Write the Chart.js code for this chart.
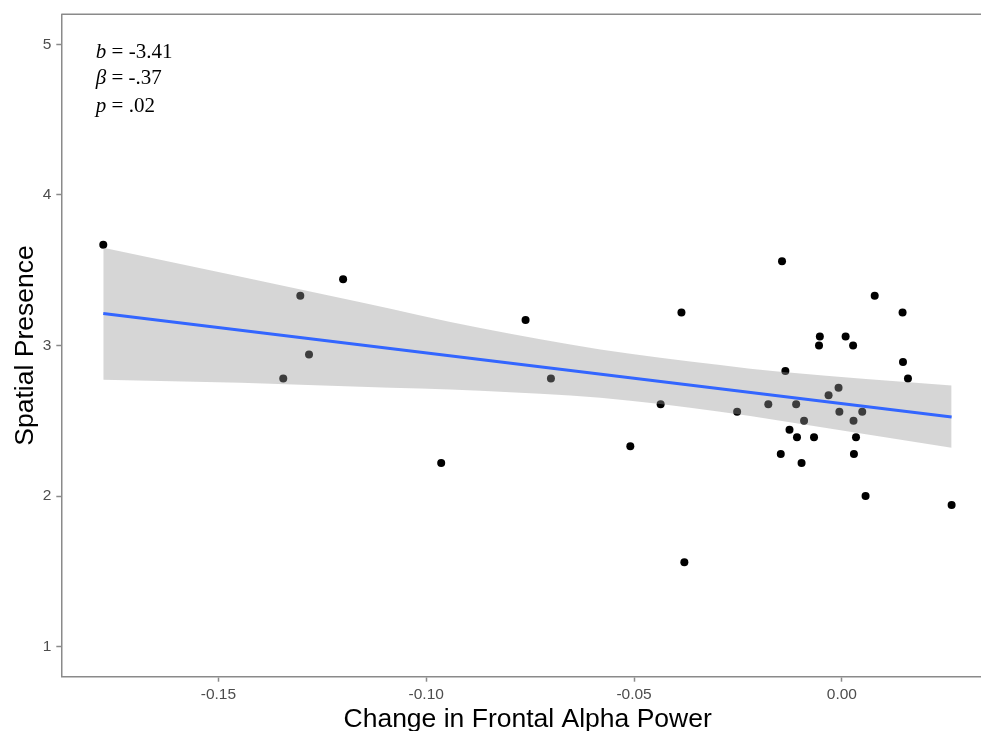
<!DOCTYPE html>
<html>
<head>
<meta charset="utf-8">
<script src="https://cdn.jsdelivr.net/npm/chart.js@4.4.0/dist/chart.umd.min.js"></script>
<style>
  html, body { margin:0; padding:0; background:#fff; overflow:hidden; }
  /* panel runs a bit past the right edge of the window, like the cropped original */
  #wrap { width:1000px; height:750px; position:relative; }
</style>
</head>
<body>
<div id="wrap"><canvas id="mycanvas"></canvas></div>
<script>
// scatter points
let alphaChange = [-0.1777, -0.1344, -0.1303, -0.1282, -0.1200, -0.0964, -0.0761, -0.0700, -0.0509, -0.0436,
                   -0.0386, -0.0379, -0.0252, -0.0177, -0.0147, -0.0144, -0.0136, -0.0126, -0.0110, -0.0108,
                   -0.0097, -0.0091, -0.0067, -0.0055, -0.0053, -0.0032, -0.0008, -0.0006, 0.0009, 0.0027,
                   0.0028, 0.0029, 0.0034, 0.0049, 0.0057, 0.0079, 0.0146, 0.0147, 0.0159, 0.0264]
let presence = [3.67, 2.78, 3.33, 2.94, 3.44, 2.22, 3.17, 2.78, 2.33, 2.61,
                3.22, 1.56, 2.56, 2.61, 2.28, 3.56, 2.83, 2.44, 2.61, 2.39,
                2.22, 2.50, 2.39, 3.00, 3.06, 2.67, 2.72, 2.56, 3.06, 3.00,
                2.50, 2.28, 2.39, 2.56, 2.00, 3.33, 3.22, 2.89, 2.78, 1.94]

// lm line and its confidence band
let fitX = [-0.1777, 0.0264]
let fitY = [3.213, 2.525]
let bandX     = [-0.1777, -0.1446, -0.1158, -0.0870, -0.0581, -0.0293, -0.0148, 0.0264]
let bandUpper = [3.650, 3.457, 3.288, 3.116, 2.974, 2.871, 2.825, 2.734]
let bandLower = [2.772, 2.752, 2.726, 2.700, 2.653, 2.560, 2.500, 2.320]

let xTicks = [-0.15, -0.10, -0.05, 0.00]
let xTickLabels = ["-0.15", "-0.10", "-0.05", "0.00"]
let yTicks = [1, 2, 3, 4, 5]

// stats text, italic symbol + rest
let statSymbols = ["b", "β", "p"]
let statValues = [" = -3.41", " = -.37", " = .02"]
let statX = -0.1795
let statY = [4.909, 4.734, 4.552]

let axisGray = '#8a8a8a'
let tickFont = { family: 'Liberation Sans', size: 15.5 }
let titleFont = { family: 'Liberation Sans', size: 26.5 }

let pts = alphaChange.map((x, i) => ({ x: x, y: presence[i] }))
let fit = fitX.map((x, i) => ({ x: x, y: fitY[i] }))
let upper = bandX.map((x, i) => ({ x: x, y: bandUpper[i] }))
let lower = bandX.map((x, i) => ({ x: x, y: bandLower[i] }))

// top border of the panel
let frameTop = {
  id: 'frameTop',
  afterDraw(c) {
    let a = c.chartArea, ctx = c.ctx
    ctx.save()
    ctx.strokeStyle = axisGray
    ctx.lineWidth = 1.5
    ctx.beginPath()
    ctx.moveTo(a.left, a.top)
    ctx.lineTo(a.right, a.top)
    ctx.stroke()
    ctx.restore()
  }
}

// b / beta / p text in the corner
let statText = {
  id: 'statText',
  afterDraw(c) {
    let ctx = c.ctx
    let px = c.scales.x.getPixelForValue(statX)
    ctx.save()
    ctx.fillStyle = '#000'
    ctx.textBaseline = 'alphabetic'
    ctx.textAlign = 'left'
    statSymbols.forEach((s, i) => {
      let py = c.scales.y.getPixelForValue(statY[i])
      ctx.font = 'italic 21px "Liberation Serif"'
      ctx.fillText(s, px, py)
      let w = ctx.measureText(s).width
      ctx.font = '21px "Liberation Serif"'
      ctx.fillText(statValues[i], px + w, py)
    })
    ctx.restore()
  }
}

let element = document.getElementById("mycanvas")
let mychart = new Chart(element, {
  type: 'scatter',
  data: {
    datasets: [
      { type: 'line', data: fit, borderColor: '#3366FF', borderWidth: 3, pointRadius: 0, fill: false, order: 0 },
      { type: 'line', data: upper, borderColor: 'rgba(0,0,0,0)', borderWidth: 0, pointRadius: 0,
        fill: '+1', backgroundColor: 'rgba(153,153,153,0.4)', cubicInterpolationMode: 'monotone', order: 1 },
      { type: 'line', data: lower, borderColor: 'rgba(0,0,0,0)', borderWidth: 0, pointRadius: 0,
        fill: false, cubicInterpolationMode: 'monotone', order: 1 },
      { data: pts, pointRadius: 4, backgroundColor: '#000', borderWidth: 0, order: 2 }
    ]
  },
  options: {
    responsive: true,
    maintainAspectRatio: false,
    animation: false,
    layout: { padding: { left: 0, top: 13.3, right: 6, bottom: 0 } },
    plugins: { legend: { display: false }, tooltip: { enabled: false } },
    scales: {
      x: {
        type: 'linear', min: -0.1878, max: 0.0366,
        afterBuildTicks: s => { s.ticks = xTicks.map(v => ({ value: v })) },
        afterFit: s => { s.height = 73.3 },
        ticks: { callback: (v, i) => xTickLabels[i], color: '#4d4d4d', font: tickFont, padding: 4, maxRotation: 0, autoSkip: false },
        grid: { drawOnChartArea: false, tickLength: 5, color: axisGray, tickWidth: 1.5 },
        border: { color: axisGray, width: 1.5 },
        title: { display: true, text: 'Change in Frontal Alpha Power', color: '#000',
                 font: titleFont, padding: { top: 0, bottom: 14 } }
      },
      y: {
        min: 0.8, max: 5.2,
        afterBuildTicks: s => { s.ticks = yTicks.map(v => ({ value: v })) },
        afterFit: s => { s.width = 61.3 },
        ticks: { color: '#4d4d4d', font: tickFont, padding: 5 },
        grid: { drawOnChartArea: false, tickLength: 5, color: axisGray, tickWidth: 1.5 },
        border: { color: axisGray, width: 1.5 },
        title: { display: true, text: 'Spatial Presence', color: '#000',
                 font: titleFont, padding: { top: 9.5, bottom: 0 } }
      }
    }
  },
  plugins: [frameTop, statText]
})
</script>
</body>
</html>
